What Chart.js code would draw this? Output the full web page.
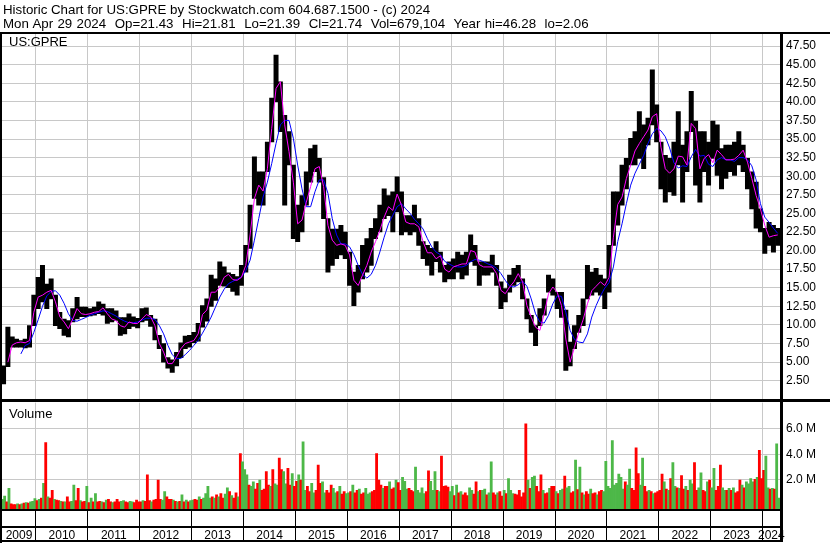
<!DOCTYPE html>
<html><head><meta charset="utf-8">
<script src="https://cdn.jsdelivr.net/npm/chart.js@4.4.1/dist/chart.umd.min.js"></script>
<style>
html,body{margin:0;padding:0;background:#fff;}
#wrap{position:relative;width:830px;height:543px;overflow:hidden;font-family:'Liberation Sans',Arial,sans-serif;}
canvas{position:absolute;left:0;}
.hdr{position:absolute;left:3px;font-size:13.3px;line-height:15px;white-space:pre;color:#000;}
.lbl{position:absolute;left:9px;font-size:13px;line-height:15px;white-space:pre;color:#000;}
.ln{position:absolute;background:#000;}
</style></head><body>
<div id="wrap">
<canvas id="pc" width="830" height="400" style="top:0"></canvas>
<canvas id="vc" width="830" height="143" style="top:400px"></canvas>
<div class="hdr" style="top:1.5px">Historic Chart for US:GPRE by Stockwatch.com 604.687.1500 - (c) 2024</div>
<div class="hdr" style="top:15.8px;word-spacing:0.6px">Mon Apr 29 2024  Op=21.43  Hi=21.81  Lo=21.39  Cl=21.74  Vol=679,104  Year hi=46.28  lo=2.06</div>
<div class="lbl" style="top:34px">US:GPRE</div>
<div class="lbl" style="top:406.3px">Volume</div>
<div class="ln" style="left:0;top:32px;width:830px;height:2px"></div>
<div class="ln" style="left:0;top:32px;width:2px;height:511px"></div>
<div class="ln" style="left:780px;top:32px;width:3px;height:510px"></div>
<div class="ln" style="left:0;top:399px;width:830px;height:3px"></div>
<div class="ln" style="left:0;top:509px;width:783px;height:2px"></div>
<div class="ln" style="left:0;top:526px;width:783px;height:2px"></div>
<div class="ln" style="left:0;top:540px;width:783px;height:2px"></div>
</div>
<script>
// ---------------- DATA ----------------
const years = [2009,2010,2011,2012,2013,2014,2015,2016,2017,2018,2019,2020,2021,2022,2023,2024];
const firstMonth = 5;          // monthly series start: May 2009
const priceTicks = [2.5,5,7.5,10,12.5,15,17.5,20,22.5,25,27.5,30,32.5,35,37.5,40,42.5,45,47.5];
const volumeTicks = [2,4,6];   // millions

// monthly low / high (May 2009 .. Apr 2024)
const priceLow = [
 2.06,4.4,7.0,7.0,7.0,6.9,7.0,9.9,
 12.2,13.1,12.2,13.5,9.9,9.5,8.6,8.4,10.4,10.8,11.1,11.1,
 11.2,11.3,11.5,11.3,10.2,10.4,10.6,8.6,8.8,9.5,9.8,9.6,
 10.4,10.6,9.8,8.0,6.8,5.0,4.2,3.6,4.5,5.6,6.8,7.0,
 7.6,7.8,9.7,10.5,12.5,13.3,15.3,15.2,15.0,14.5,14.0,15.3,
 17.1,20.3,27.0,26.1,26.1,30.6,34.6,40.0,36.0,26.1,31.5,21.6,
 21.2,22.5,26.1,29.2,30.6,29.2,24.3,17.1,18.0,18.9,19.4,18.9,
 15.3,12.6,14.4,16.2,17.1,18.0,21.6,22.5,24.3,24.7,22.5,25.2,
 22.1,22.5,22.1,22.5,20.7,18.9,18.0,16.7,18.5,17.1,15.8,16.2,
 16.2,17.1,16.2,16.7,18.5,18.0,15.3,16.7,16.7,17.1,15.3,12.2,
 13.1,14.4,15.3,15.8,13.5,10.8,9.0,7.2,9.9,11.3,14.4,14.0,
 12.2,11.0,3.9,4.5,6.8,9.0,9.9,13.5,14.0,14.4,14.0,12.2,
 14.4,20.7,23.4,26.1,28.3,31.5,31.5,32.4,31.0,34.2,36.9,34.6,
 28.3,26.5,27.9,27.4,31.5,26.5,30.6,36.0,28.8,26.5,30.6,28.8,
 32.4,30.1,28.3,29.7,30.6,30.1,31.5,30.6,28.3,25.6,23.0,22.5,
 19.6,20.7,19.8,20.7
];
const priceHigh = [
 4.5,9.7,8.4,8.1,7.9,8.1,9.9,14.0,
 16.4,18.0,15.5,16.2,14.0,11.7,10.8,10.6,12.2,13.7,12.4,12.4,
 12.2,12.4,13.1,12.8,12.2,12.2,11.9,11.0,11.0,11.5,11.1,10.9,
 12.2,12.3,11.3,10.8,8.6,7.5,5.6,5.3,6.3,7.6,8.5,8.6,
 9.0,10.2,12.6,13.5,16.7,16.2,18.5,17.8,17.0,16.8,16.5,18.0,
 20.7,26.1,32.6,30.6,30.6,34.6,40.5,46.3,42.7,38.2,36.0,31.5,
 26.1,27.4,30.6,33.7,34.2,32.4,29.8,24.3,22.9,22.9,23.4,22.5,
 19.8,17.1,18.0,20.7,21.6,23.0,24.3,26.1,28.3,27.4,27.9,29.9,
 27.9,24.7,24.7,26.1,24.3,21.2,20.7,20.3,21.2,19.8,18.0,18.5,
 18.9,19.8,19.4,19.8,22.1,20.7,18.5,18.5,18.5,19.4,18.0,15.8,
 14.9,16.7,17.6,18.0,16.2,13.5,11.3,9.9,12.2,13.5,16.7,16.2,
 14.4,14.4,12.0,7.7,9.9,11.3,13.5,18.0,17.1,17.6,16.7,16.2,
 20.7,27.9,27.9,31.5,32.4,35.1,36.0,38.7,36.9,37.8,44.3,39.6,
 34.6,32.8,32.4,34.6,38.7,34.2,36.0,41.4,37.4,36.0,36.0,34.6,
 37.4,36.9,33.7,34.2,34.2,34.6,36.0,34.2,32.4,30.6,29.2,25.6,
 23.0,23.8,23.4,23.0
];
// short moving average (magenta), monthly
const maShort = [
 null,5.0,7.3,7.6,7.7,7.6,7.9,11.7,
 13.75,14.0,14.4,14.65,13.1,11.1,10.4,9.5,10.8,12.2,11.5,11.4,
 11.5,11.7,11.8,12.3,11.5,10.8,10.6,9.9,9.7,10.4,10.2,10.2,
 10.8,11.4,11.1,9.9,7.5,6.35,4.8,4.8,5.7,6.8,7.5,7.7,
 7.9,8.8,11.4,12.0,14.4,14.4,15.1,16.4,16.8,16.1,16.0,16.4,
 18.0,22.1,27.0,28.8,28.0,31.0,36.4,41.8,42.7,36.9,33.3,29.2,
 23.6,24.1,26.5,28.6,31.0,31.3,28.6,23.4,21.4,20.7,20.9,20.7,
 19.4,16.0,15.3,16.7,18.0,19.8,21.2,22.7,24.5,25.9,25.4,27.6,
 26.1,23.85,23.6,23.6,23.2,21.2,19.7,19.7,18.9,19.3,17.5,17.1,
 17.8,18.0,18.2,18.2,20.0,19.8,18.1,17.8,17.8,17.8,16.9,14.65,
 14.2,15.1,15.8,16.9,15.8,12.6,11.06,9.7,9.26,11.5,14.2,15.1,
 14.4,12.6,8.1,5.0,7.0,9.0,10.7,12.85,14.6,15.2,15.8,15.3,
 16.4,21.8,26.2,27.2,29.7,31.5,33.4,34.4,35.3,36.2,38.0,38.4,
 33.9,31.0,30.4,31.0,32.7,32.6,31.5,37.1,36.4,31.0,32.4,32.9,
 31.8,33.5,32.9,32.2,32.2,32.3,32.8,33.5,31.9,29.7,27.4,25.6,
 23.4,21.8,22.0,22.1
];
// long moving average (blue), monthly
const maLong = [
 null,null,null,null,6.1,7.25,7.5,9.0,
 10.7,12.5,13.9,14.5,14.6,14.0,12.9,11.5,10.6,10.5,10.75,11.0,
 11.3,11.5,11.7,11.9,11.8,11.5,11.2,10.8,10.5,10.3,10.3,10.4,
 10.65,10.9,10.9,10.75,9.94,8.8,7.25,6.0,5.45,5.5,6.0,6.57,
 7.25,7.9,8.9,9.94,11.06,12.4,13.75,14.8,15.55,15.86,16.13,16.44,
 17.3,18.7,21.4,24.3,27.2,29.2,31.7,34.4,36.9,37.5,37.5,35.1,
 31.5,28.3,25.9,25.9,27.9,29.5,29.5,27.7,24.3,22.1,20.9,20.9,
 20.5,19.45,18.0,16.8,16.3,16.8,18.0,19.8,21.8,23.6,24.75,25.9,
 26.3,25.6,25.0,24.2,23.6,22.9,21.6,20.5,19.8,19.45,18.55,18.2,
 17.9,17.8,17.8,18.0,18.5,18.8,18.7,18.5,18.2,18.0,17.6,16.9,
 16.0,15.2,15.1,15.4,15.9,15.2,13.5,11.5,10.4,10.25,11.3,12.85,
 13.9,13.85,11.7,9.26,8.05,7.7,7.6,8.8,11.06,12.6,13.9,14.95,
 15.7,17.8,21.2,23.6,26.3,28.8,30.4,31.6,32.8,34.4,35.7,36.4,
 36.1,35.3,33.8,31.8,31.1,31.4,31.3,32.6,33.6,32.7,32.8,31.6,
 31.3,32.2,32.5,32.2,32.2,32.0,32.5,32.5,32.2,31.4,29.5,26.3,
 24.5,23.8,23.0,22.3
];
// volume in millions, two bars per month (May 2009 .. Apr 2024)
const volume = [
 0.5,0.75,0.3,1.35,0.15,0.1,0.1,0.15,0.1,0.15,0.2,0.25,0.2,0.3,0.35,0.55,
 0.4,0.5,0.6,1.74,4.9,0.7,0.6,1.2,0.5,0.45,0.4,0.35,0.3,0.3,0.7,0.3,0.35,1.6,0.4,1.35,0.4,0.3,0.35,1.5,
 0.25,0.6,0.3,0.95,0.3,0.35,0.3,0.25,0.45,0.5,0.3,0.25,0.3,0.5,0.3,0.35,0.4,0.3,0.25,0.35,0.3,0.25,0.45,0.3,
 0.3,0.4,0.35,2.4,0.4,0.3,0.45,0.5,2.0,0.5,0.45,1.1,0.7,0.5,0.5,0.45,0.35,0.3,0.35,0.85,0.3,0.45,0.3,0.4,
 0.45,0.5,0.45,0.7,0.5,0.6,0.95,1.5,0.6,0.7,0.6,0.85,0.7,0.95,0.6,0.9,1.4,1.1,0.8,0.6,1.0,0.7,4.05,3.4,
 2.8,2.4,1.6,1.5,1.85,1.3,1.75,2.0,1.2,1.3,2.65,1.6,1.5,2.8,1.7,1.6,3.7,2.8,2.65,1.7,2.9,1.6,2.5,1.5,
 1.9,2.4,2.0,4.95,1.2,1.5,1.1,1.75,1.0,1.2,3.15,1.75,1.85,1.0,1.2,1.0,1.6,1.35,1.0,1.1,1.5,0.9,1.1,0.95,
 1.0,1.1,1.6,1.0,1.2,1.3,0.9,1.0,1.35,0.9,1.0,1.1,1.2,4.05,2.0,1.6,1.35,1.5,1.5,1.85,1.3,1.4,2.0,1.8,
 1.2,2.2,1.9,1.3,1.35,1.2,1.1,3.0,1.2,1.0,1.4,0.95,1.1,2.7,1.9,1.2,2.65,1.2,1.1,3.85,1.5,1.55,1.45,1.1,
 1.5,0.8,1.6,1.0,1.1,0.85,1.0,0.8,1.4,1.2,0.9,1.85,1.1,1.2,1.2,1.3,0.85,1.0,3.4,1.0,0.85,1.0,1.1,0.75,
 1.2,0.95,2.1,1.2,0.95,0.9,0.85,1.2,0.7,1.0,6.35,2.0,1.35,2.2,2.3,1.5,1.1,2.4,1.2,0.95,1.0,1.35,1.5,1.5,
 1.1,0.95,1.2,1.3,2.3,1.4,1.5,1.0,1.1,3.55,1.25,3.0,1.0,0.85,1.1,0.9,1.3,0.95,1.0,0.85,1.1,1.2,1.1,3.45,
 1.5,1.35,5.05,1.6,1.75,2.45,2.2,1.3,1.85,1.6,2.85,1.35,1.2,4.5,2.5,1.6,3.7,1.5,1.1,1.2,1.1,0.95,1.0,1.1,
 1.2,2.45,1.85,1.3,1.2,2.1,3.35,1.5,1.4,1.35,2.35,1.3,1.5,1.2,2.0,1.7,3.35,1.2,1.4,2.55,1.2,1.1,1.85,2.0,
 1.4,2.9,1.2,1.5,3.15,1.4,1.2,1.2,1.35,1.2,1.4,1.0,1.1,2.0,1.6,1.4,1.85,1.7,2.1,1.85,2.05,2.2,4.3,2.1,
 2.75,3.85,1.4,1.3,1.35,1.3,4.8,0.6
];
// bar colour per volume bar: g = up, r = down
const volumeDir =
 "ggrgrrrgrgrgrggg" +
 "rgrgrgrrgrrgrgrrggrrgrrg" +
 "rgrgrrgrgrrgrrrggrrggrrr" +
 "rgrrrgrrrrggrrrgrgrgrgrg" +
 "grrgrggggrgrgrrggrgrrgrg" +
 "ggrggrrgrrrrgrggrrggrrgr" +
 "rgrggrrggrrrggrrrggrgrrg" +
 "grgrrgrrgggrrrrrgrrgrrgr" +
 "rgggrrrgggggrrgggrgrrrrg" +
 "grgrgrrrggrrgrggrggrrgrr" +
 "grgggrrrrrrgrggrrrgrrgrr" +
 "grggrggrrgrgrgrrgrrgrrgg" +
 "ggggggggrggrrrrggrrgrgrr" +
 "rrgrgrggrgrrgrggrrggrrgr" +
 "ggrrrggrgrgrrrgrggggrgrr" +
 "rggrgrgg";

// ---------------- BUILD ----------------
const FONT = "'Liberation Sans', Arial, sans-serif";
const X_MIN = 2009.345, X_MAX = 2024.335;
const GRID = '#c8c8c8';
const monthX = i => 2009 + ((firstMonth - 1) + i + 0.5) / 12;
const halfX = j => 2009 + ((firstMonth - 1) * 2 + j + 0.5) / 24;
const yearBounds = years.slice(1);
const yearMids = years.map((y, i) => i === 0 ? (X_MIN + 2010) / 2 : (y === 2024 ? (2024 + X_MAX) / 2 : y + 0.5));

const pricePts = priceLow.map((lo, i) => ({x: monthX(i), y: [lo, priceHigh[i]]}));
const maShortPts = maShort.map((v, i) => ({x: monthX(i), y: v}));
const maLongPts = maLong.map((v, i) => ({x: monthX(i), y: v}));
const volPts = volume.map((v, j) => ({x: halfX(j), y: v}));
const volCols = volume.map((v, j) => volumeDir[j] === 'r' ? '#ff0000' : '#4db848');

Chart.defaults.font.family = FONT;

// horizontal grid lines drawn from the y scale's own ticks
const hGrid = {
  id: 'hGrid',
  beforeDatasetsDraw(chart) {
    const {ctx, chartArea: a} = chart; const ys = chart.scales.y;
    ctx.save(); ctx.strokeStyle = GRID; ctx.lineWidth = 1;
    ys.ticks.forEach(t => {
      const p = Math.round(ys.getPixelForValue(t.value) - 0.5) + 0.5;
      ctx.beginPath(); ctx.moveTo(a.left, p); ctx.lineTo(a.right, p); ctx.stroke();
    });
    ctx.restore();
  }
};
const fixY = s => { s.width = 50; s.paddingTop = 0; s.paddingBottom = 0; };

new Chart(document.getElementById('pc'), {
  type: 'bar',
  data: { datasets: [
    {type: 'line', data: maShortPts, borderColor: '#ff00ff', borderWidth: 1, pointRadius: 0, order: 1},
    {type: 'line', data: maLongPts, borderColor: '#0000ff', borderWidth: 1, pointRadius: 0, order: 2},
    {type: 'bar', data: pricePts, backgroundColor: '#000', borderWidth: 0, barThickness: 'flex', barPercentage: 1, categoryPercentage: 1, order: 3}
  ]},
  plugins: [hGrid],
  options: {
    responsive: false, animation: false, devicePixelRatio: 1,
    layout: {padding: {left: 2, top: 34, right: 0, bottom: 0.7}},
    plugins: {legend: {display: false}, tooltip: {enabled: false}},
    scales: {
      x: {type: 'linear', min: X_MIN, max: X_MAX, offset: false,
          afterBuildTicks: s => { s.ticks = yearBounds.map(v => ({value: v})); },
          ticks: {display: false}, grid: {offset: false, color: GRID, drawTicks: false},
          border: {display: false}, afterFit: s => { s.height = 0; s.paddingLeft = 0; s.paddingRight = 0; }},
      y: {position: 'right', min: 0, max: 49.12,
          afterBuildTicks: s => { s.ticks = priceTicks.map(v => ({value: v})); },
          ticks: {padding: 6, color: '#000', font: {size: 12}, callback: v => v.toFixed(2)},
          grid: {display: true, drawOnChartArea: true, color: GRID, lineWidth: 1, drawTicks: false}, border: {display: false},
          afterFit: fixY}
    }
  }
});

const ticksB = [];
yearBounds.forEach(v => ticksB.push({value: v}));
yearMids.forEach(v => ticksB.push({value: v}));
ticksB.sort((a, b) => a.value - b.value);
const isBound = t => t && Number.isInteger(t.value);

new Chart(document.getElementById('vc'), {
  type: 'bar',
  data: { datasets: [
    {type: 'bar', data: volPts, backgroundColor: volCols, borderWidth: 0, barThickness: 'flex', barPercentage: 1, categoryPercentage: 1, base: -0.25}
  ]},
  plugins: [hGrid],
  options: {
    responsive: false, animation: false, devicePixelRatio: 1,
    layout: {padding: {left: 2, top: 2.6, right: 0, bottom: 0}},
    plugins: {legend: {display: false}, tooltip: {enabled: false}},
    scales: {
      x: {type: 'linear', min: X_MIN, max: X_MAX, offset: false,
          afterBuildTicks: s => { s.ticks = ticksB.map(t => ({value: t.value})); },
          ticks: {autoSkip: false, maxRotation: 0, minRotation: 0, padding: -12.5, color: '#000', font: {size: 12},
                  callback: v => Number.isInteger(v) ? '' : String(Math.floor(v))},
          grid: {offset: false, drawTicks: true, tickLength: 32, tickWidth: 1, lineWidth: 1,
                 color: c => isBound(c.tick) ? GRID : 'rgba(0,0,0,0)',
                 tickColor: c => isBound(c.tick) ? '#000' : 'rgba(0,0,0,0)'},
          border: {display: false}, afterFit: s => { s.height = 34; s.paddingLeft = 0; s.paddingRight = 0; }},
      y: {position: 'right', min: -0.25, max: 8,
          afterBuildTicks: s => { s.ticks = volumeTicks.map(v => ({value: v})); },
          ticks: {padding: 6, color: '#000', font: {size: 12}, callback: v => v.toFixed(1) + ' M'},
          grid: {display: true, drawOnChartArea: true, color: GRID, lineWidth: 1, drawTicks: false}, border: {display: false},
          afterFit: fixY}
    }
  }
});
</script>
</body></html>
